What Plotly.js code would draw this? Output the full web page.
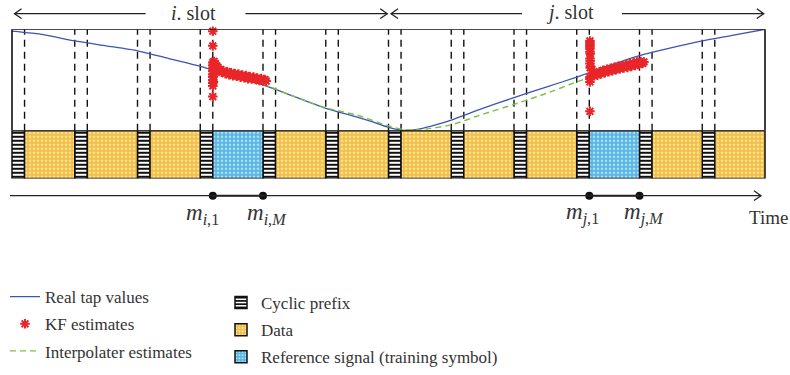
<!DOCTYPE html>
<html>
<head>
<meta charset="utf-8">
<script src="https://cdn.plot.ly/plotly-3.0.1.min.js"></script>
<style>
  html, body { margin: 0; padding: 0; background: #fff; }
  #chart { width: 790px; height: 375px; }
</style>
</head>
<body>
<div id="chart"></div>
<script>
// Frame of 12 OFDM symbols (two slots of six); each symbol = cyclic prefix + body
const symbolKinds = ['Data', 'Data', 'Data', 'Reference', 'Data', 'Data',
                     'Data', 'Data', 'Data', 'Reference', 'Data', 'Data'];
const cpLength = 0.2;            // cyclic prefix share of one symbol period
const slotNames = ['i', 'j'];
const slotLength = 6;            // symbols per slot

// Real channel tap (normalised) against time in symbol periods
const tapTime  = [0, 0.5, 1, 1.5, 2, 2.5, 3, 3.5, 4, 4.5, 5, 5.5, 5.75, 6, 6.25, 6.5, 6.75,
                  7, 7.5, 8, 8.5, 9, 9.5, 10, 10.5, 11, 11.5, 12];
const tapValue = [0.981, 0.947, 0.885, 0.837, 0.788, 0.712, 0.635, 0.543, 0.452, 0.337, 0.221,
                  0.135, 0.087, 0.034, 0.004, 0.019, 0.058, 0.106, 0.221, 0.327, 0.428, 0.529,
                  0.639, 0.740, 0.817, 0.885, 0.942, 1.0];

// Interpolation between the last KF estimate of slot i and the first of slot j
const interpTime  = [4.0, 4.5, 5, 5.5, 6, 6.25, 6.5, 7, 7.5, 8, 8.5, 9, 9.2];
const interpValue = [0.462, 0.337, 0.226, 0.154, 0.048, 0.010, 0.010, 0.058, 0.163, 0.260,
                     0.365, 0.481, 0.524];

// Kalman filter estimates during the two reference symbols
const kfTime = [
  // slot i: start-up transient
  3.20, 3.20, 3.20, 3.20, 3.20, 3.20, 3.20, 3.20, 3.20, 3.20, 3.20, 3.20,
  3.21, 3.21, 3.21, 3.21, 3.22, 3.22,
  // slot i: tracking
  3.22, 3.24, 3.26, 3.28, 3.30, 3.32, 3.34, 3.37, 3.40, 3.43, 3.46, 3.49, 3.52, 3.55, 3.58,
  3.61, 3.64, 3.67, 3.70, 3.73, 3.76, 3.79, 3.82, 3.85, 3.88, 3.91, 3.94, 3.97, 4.00, 4.03, 4.05,
  3.35, 3.45, 3.55, 3.65, 3.75, 3.85, 3.95,
  // slot j: start-up transient
  9.21, 9.21, 9.21, 9.21, 9.21, 9.21, 9.21, 9.21, 9.21, 9.21, 9.21, 9.21,
  9.215, 9.215, 9.215,
  // slot j: tracking
  9.22, 9.24, 9.26, 9.28, 9.30, 9.33, 9.36, 9.39, 9.42, 9.45, 9.48, 9.51, 9.54, 9.57, 9.60,
  9.63, 9.66, 9.69, 9.72, 9.75, 9.78, 9.81, 9.84, 9.87, 9.90, 9.93, 9.96, 9.99, 10.02, 10.05, 10.07,
  9.40, 9.50, 9.60, 9.70, 9.80, 9.90, 10.00
];
const kfValue = [
  0.981, 0.837, 0.673, 0.644, 0.615, 0.587, 0.558, 0.529, 0.500, 0.471, 0.442, 0.337,
  0.654, 0.596, 0.538, 0.481, 0.620, 0.560,
  0.683, 0.663, 0.639, 0.625, 0.601, 0.606, 0.577, 0.591, 0.563, 0.582, 0.553, 0.572, 0.543,
  0.563, 0.538, 0.558, 0.529, 0.548, 0.524, 0.543, 0.514, 0.534, 0.510, 0.529, 0.505, 0.519,
  0.495, 0.514, 0.490, 0.505, 0.490,
  0.580, 0.565, 0.553, 0.540, 0.528, 0.518, 0.505,
  0.885, 0.865, 0.846, 0.827, 0.808, 0.779, 0.712, 0.663, 0.529, 0.510, 0.481, 0.192,
  0.760, 0.690, 0.620,
  0.635, 0.601, 0.567, 0.543, 0.563, 0.548, 0.582, 0.563, 0.596, 0.572, 0.606, 0.582, 0.615,
  0.591, 0.625, 0.601, 0.635, 0.611, 0.639, 0.620, 0.649, 0.625, 0.659, 0.635, 0.668, 0.644,
  0.678, 0.654, 0.683, 0.663, 0.678,
  0.578, 0.596, 0.612, 0.626, 0.640, 0.652, 0.665
];

// Time-axis markers: first and last sample of each reference symbol
const markerLabels = ['<i>m</i><sub><i>i</i>,1</sub>', '<i>m</i><sub><i>i</i>,<i>M</i></sub>',
                      '<i>m</i><sub><i>j</i>,1</sub>', '<i>m</i><sub><i>j</i>,<i>M</i></sub>'];

// ---------- geometry helpers (page is 790 x 375) ----------
const W = 790, H = 375;
const pxPerSym = 62.75, leftPx = 12;
const xRange = [-leftPx / pxPerSym, symbolKinds.length + (W - leftPx - pxPerSym * symbolKinds.length) / pxPerSym];
const py = p => 1 - p / H;                 // pixel row -> paper y
const symW = n => n / pxPerSym;             // pixels -> symbol units

const SERIF = 'Liberation Serif, DejaVu Serif, serif';
const TEXT = '#333333';

// ---------- block row: cyclic prefixes, data and reference symbols ----------
const cpX = [], dataX = [], refX = [];
symbolKinds.forEach((k, n) => {
  cpX.push(n + cpLength / 2);
  (k === 'Data' ? dataX : refX).push(n + (1 + cpLength) / 2);
});
const bodyW = 1 - cpLength;
const barCommon = { type: 'bar', yaxis: 'y2', base: 0, legend: 'legend2', hoverinfo: 'skip' };
const cpTrace = Object.assign({}, barCommon, {
  name: 'Cyclic prefix', x: cpX, y: cpX.map(() => 1), width: cpX.map(() => cpLength),
  legendgroup: 'cp', legendrank: 1,
  marker: { color: '#ffffff', line: { color: '#111', width: 1.5 },
            pattern: { shape: '-', fgcolor: '#111', bgcolor: '#ffffff', size: 4, solidity: 0.5 } }
});
const dataTrace = Object.assign({}, barCommon, {
  name: 'Data', x: dataX, y: dataX.map(() => 1), width: dataX.map(() => bodyW),
  legendgroup: 'data', legendrank: 2,
  marker: { color: '#F4BE42', line: { color: '#111', width: 1.5 },
            pattern: { shape: '.', fgcolor: '#FBE3A2', bgcolor: '#F4BE42', size: 4, solidity: 0.35 } }
});
const refTrace = Object.assign({}, barCommon, {
  name: 'Reference signal (training symbol)', x: refX, y: refX.map(() => 1), width: refX.map(() => bodyW),
  legendgroup: 'ref', legendrank: 3,
  marker: { color: '#55B6E6', line: { color: '#111', width: 1.5 },
            pattern: { shape: '.', fgcolor: '#B2DFF6', bgcolor: '#55B6E6', size: 4, solidity: 0.35 } }
});

// ---------- channel curves ----------
const tapTrace = {
  type: 'scatter', mode: 'lines', name: 'Real tap values', x: tapTime, y: tapValue,
  line: { color: '#3A55B4', width: 1.3, shape: 'spline', smoothing: 0.6 },
  legendgroup: 'tap', legendrank: 1, cliponaxis: false, hoverinfo: 'skip'
};
const interpTrace = {
  type: 'scatter', mode: 'lines', name: 'Interpolater estimates', x: interpTime, y: interpValue,
  line: { color: '#7DC142', width: 1.4, dash: '6px,4px', shape: 'spline', smoothing: 0.6 },
  legendgroup: 'interp', legendrank: 3, cliponaxis: false, hoverinfo: 'skip'
};
const kfTrace = {
  type: 'scatter', mode: 'markers', name: 'KF estimates', x: kfTime, y: kfValue,
  marker: { symbol: 'asterisk-open', size: 8, color: '#E8262A', line: { color: '#E8262A', width: 2 } },
  legendgroup: 'kf', legendrank: 2, cliponaxis: false, hoverinfo: 'skip'
};

// ---------- time axis dots ----------
const markerX = refX.flatMap(c => [c - bodyW / 2, c + bodyW / 2]);
const dotTrace = {
  type: 'scatter', mode: 'markers', x: markerX, y: markerX.map(() => 0), yaxis: 'y3',
  marker: { size: 8, color: '#111' }, showlegend: false, cliponaxis: false, hoverinfo: 'skip'
};

// ---------- shapes ----------
const shapes = [];
// dashed symbol boundaries inside the tap panel
symbolKinds.forEach((k, n) => {
  const xs = n === 0 ? [n + cpLength] : [n, n + cpLength];
  xs.forEach(x => shapes.push({ type: 'line', xref: 'x', yref: 'y', x0: x, x1: x, y0: 0, y1: 1,
    line: { color: '#111', width: 1.4, dash: '7px,5px' }, layer: 'below' }));
});
// panel frame
shapes.push({ type: 'rect', xref: 'x', yref: 'y', x0: 0, x1: symbolKinds.length, y0: 0, y1: 1,
  line: { color: '#111', width: 1.6 }, layer: 'above' });

const headLen = symW(7), headHalf = 5 / H;
function chevron(tipX, yPaper, dir) {
  const bx = tipX - dir * headLen;
  return { type: 'path', xref: 'x', yref: 'paper', layer: 'above',
    path: `M${bx},${yPaper + headHalf} L${tipX},${yPaper} L${bx},${yPaper - headHalf}`,
    line: { color: '#222', width: 1.3 } };
}
function hline(x0, x1, yPaper, w) {
  return { type: 'line', xref: 'x', yref: 'paper', x0, x1, y0: yPaper, y1: yPaper,
    line: { color: '#222', width: w }, layer: 'above' };
}

// slot spans with arrows
const slotY = py(14);
const annotations = [];
slotNames.forEach((s, i) => {
  const a = i * slotLength, b = (i + 1) * slotLength, c = (a + b) / 2;
  const left = a + 0.04, right = b - 0.02;
  shapes.push(hline(left, c - 0.87, slotY, 1.2), chevron(left, slotY, -1));
  shapes.push(hline(c + 0.72, right, slotY, 1.2), chevron(right, slotY, 1));
  annotations.push({ xref: 'x', yref: 'paper', x: c - 0.1, y: py(13), yanchor: 'middle',
    text: `<i>${s}</i>. slot`, showarrow: false, font: { family: SERIF, size: 20, color: TEXT } });
});

// time axis
const timeY = py(200.5);
const timeEnd = symbolKinds.length - symW(4);
shapes.push(hline(-symW(2), timeEnd, timeY, 1.3), chevron(timeEnd, timeY, 1));
for (let k = 0; k < markerX.length; k += 2) shapes.push(hline(markerX[k], markerX[k + 1], timeY, 1.9));

const labelShift = [-10, 4, -7, 4];
markerX.forEach((x, k) => annotations.push({
  xref: 'x', yref: 'paper', x, y: py(219), xshift: labelShift[k], yanchor: 'middle',
  text: markerLabels[k], showarrow: false, font: { family: SERIF, size: 23, color: TEXT } }));
annotations.push({ xref: 'paper', yref: 'paper', x: 1, xanchor: 'right', y: py(223), yanchor: 'middle',
  text: 'Time', showarrow: false, font: { family: SERIF, size: 19, color: TEXT } });

const layout = {
  width: W, height: H, margin: { l: 0, r: 0, t: 0, b: 0 },
  paper_bgcolor: '#fff', plot_bgcolor: 'rgba(0,0,0,0)',
  font: { family: SERIF, size: 16, color: TEXT },
  barmode: 'overlay', showlegend: true,
  xaxis: { range: xRange, visible: false, fixedrange: true },
  yaxis:  { domain: [py(134), py(30)], range: [0, 1], visible: false, fixedrange: true },
  yaxis2: { domain: [py(183), py(134)], range: [0, 1], visible: false, fixedrange: true },
  yaxis3: { domain: [timeY - 0.04, timeY + 0.04], range: [-1, 1], visible: false, fixedrange: true },
  legend: { x: 5 / W, xanchor: 'left', y: py(286), yanchor: 'top', bgcolor: 'rgba(0,0,0,0)',
            traceorder: 'grouped', tracegroupgap: 2, font: { family: SERIF, size: 17, color: TEXT } },
  legend2: { x: 221 / W, xanchor: 'left', y: py(292), yanchor: 'top', bgcolor: 'rgba(0,0,0,0)',
             traceorder: 'grouped', tracegroupgap: 2, font: { family: SERIF, size: 17, color: TEXT } },
  shapes, annotations
};

Plotly.newPlot('chart', [cpTrace, dataTrace, refTrace, tapTrace, interpTrace, kfTrace, dotTrace],
  layout, { staticPlot: true, displayModeBar: false });
</script>
</body>
</html>
